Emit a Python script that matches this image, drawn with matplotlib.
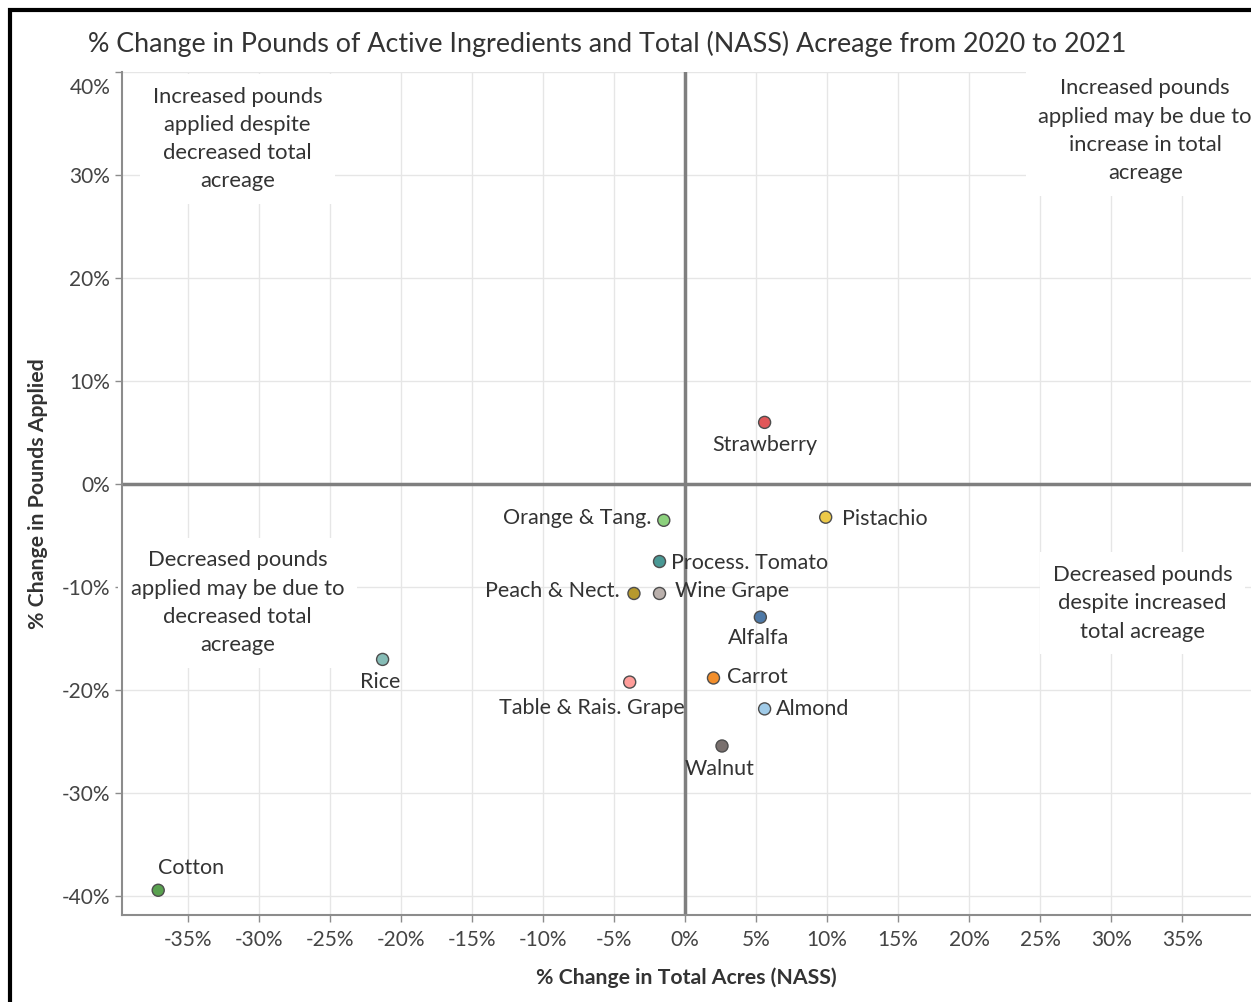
import matplotlib
matplotlib.use("Agg")
import matplotlib.pyplot as plt
import matplotlib.transforms as mtransforms
from matplotlib.patches import Rectangle
from matplotlib.ticker import FuncFormatter, MultipleLocator

plt.rcParams["font.family"] = ["Lato", "DejaVu Sans"]

# ---- Data ----
crops = ["Strawberry", "Pistachio", "Orange & Tang.", "Process. Tomato", "Peach & Nect.",
         "Wine Grape", "Alfalfa", "Rice", "Table & Rais. Grape", "Carrot", "Almond",
         "Walnut", "Cotton"]
acre_change = [5.6, 9.9, -1.5, -1.8, -3.6, -1.8, 5.3, -21.3, -3.9, 2.0, 5.6, 2.6, -37.1]
pounds_change = [6.0, -3.2, -3.5, -7.5, -10.6, -10.6, -12.9, -17.0, -19.2, -18.8, -21.8, -25.4, -39.4]
colors = ["#e15759", "#edc948", "#8cd17d", "#499894", "#b6992d", "#bab0ac", "#4e79a7",
          "#86bcb6", "#ff9d9a", "#f28e2b", "#a0cbe8", "#79706e", "#59a14f"]
# label placement: (dx px, dy px, ha)
label_pos = [(0, -23, "center"), (16, -2, "left"), (-12, 2, "right"), (11, -1, "left"),
             (-14, 2, "right"), (15, 2, "left"), (-2, -21, "center"), (-2, -23, "center"),
             (55, -26, "right"), (14, 1, "left"), (11, 0, "left"), (-2, -23, "center"),
             (0, 22, "left")]

quad_notes = [
    (-31.5, 33.5, "Increased pounds\napplied despite\ndecreased total\nacreage"),
    (32.4, 34.3, "Increased pounds\napplied may be due to\nincrease in total\nacreage"),
    (-31.5, -11.5, "Decreased pounds\napplied may be due to\ndecreased total\nacreage"),
    (32.2, -11.55, "Decreased pounds\ndespite increased\ntotal acreage"),
]

TXT = "#333333"
GRID = "#e6e6e6"
AXC = "#8c8c8c"

fig = plt.figure(figsize=(12.51, 10.02), dpi=100)
ax = fig.add_axes([122 / 1251, 87 / 1002, 1 - 122 / 1251, (915 - 72) / 1002])

ax.set_xlim(-39.65, 39.85)
ax.set_ylim(-41.8, 40)
ax.xaxis.set_major_locator(MultipleLocator(5))
ax.yaxis.set_major_locator(MultipleLocator(10))
ax.xaxis.set_major_formatter(FuncFormatter(lambda v, p: f"{v:.0f}%"))
ax.yaxis.set_major_formatter(FuncFormatter(lambda v, p: f"{v:.0f}%"))
ax.grid(True, color=GRID, lw=1)
ax.set_axisbelow(True)
for s in ["top", "right"]:
    ax.spines[s].set_visible(False)
for s in ["left", "bottom"]:
    ax.spines[s].set_color(AXC)
    ax.spines[s].set_linewidth(1.5)
ax.tick_params(colors=AXC, labelcolor="#444444", labelsize=15, length=5, width=1)
ax.tick_params(axis="x", pad=6)

ax.axhline(0, color="#7f7f7f", lw=2.5, zorder=1.5)
ax.axvline(0, color="#7f7f7f", lw=2.5, zorder=1.5)

fig.canvas.draw()
for lab in ax.get_yticklabels():
    if lab.get_text() == "40%":
        lab.set_verticalalignment("top")
        lab.set_transform(lab.get_transform() + mtransforms.ScaledTranslation(0, -4 / 72, fig.dpi_scale_trans))

# quadrant notes
for x, y, t in quad_notes:
    ax.text(x, y, t, ha="center", va="center", fontsize=15.8, color=TXT, linespacing=1.52,
            bbox=dict(facecolor="white", edgecolor="none", pad=9), zorder=2)

ax.scatter(acre_change, pounds_change, s=75, c=colors, edgecolors="#4d4d4d",
           linewidths=1, zorder=4)
for name, x, y, (dx, dy, ha) in zip(crops, acre_change, pounds_change, label_pos):
    ax.annotate(name, (x, y), xytext=(dx, dy), textcoords="offset pixels",
                ha=ha, va="center", fontsize=15.5, color=TXT, zorder=5)

ax.set_xlabel("% Change in Total Acres (NASS)", fontsize=15.3, fontweight="bold",
              color=TXT, labelpad=12)
ax.set_ylabel("% Change in Pounds Applied", fontsize=15.3, fontweight="bold",
              color=TXT, labelpad=10)

fig.text(88 / 1251, 1 - 44 / 1002,
         "% Change in Pounds of Active Ingredients and Total (NASS) Acreage from 2020 to 2021",
         ha="left", va="center", fontsize=19.4, color=TXT)

fig.add_artist(Rectangle((10 / 1251, -0.1), 1.2, 1.1 - 10 / 1002, transform=fig.transFigure,
                         fill=False, edgecolor="black", lw=3))

fig.savefig("out.png", dpi=100)
